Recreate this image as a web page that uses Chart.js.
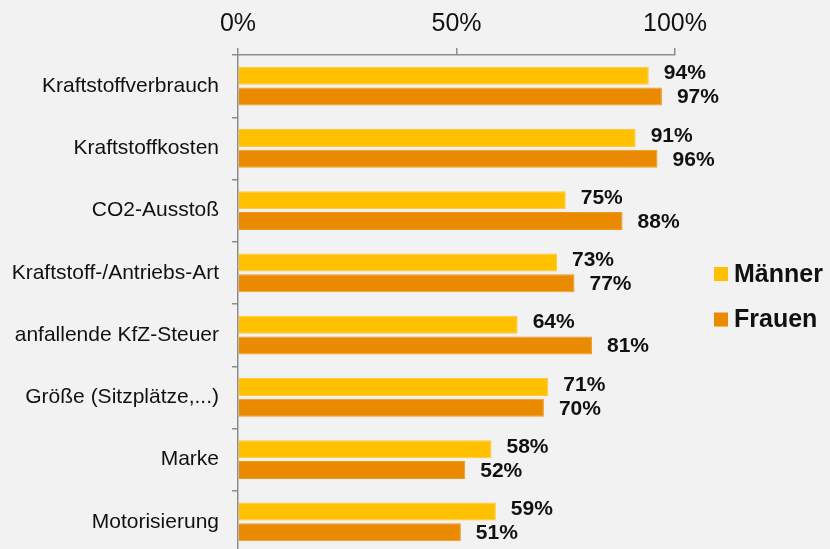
<!DOCTYPE html>
<html><head><meta charset="utf-8">
<script src="https://cdn.jsdelivr.net/npm/chart.js@4/dist/chart.umd.min.js"></script>
<style>
html,body{margin:0;padding:0;background:#f2f2f2;overflow:hidden}
canvas{display:block}
</style></head>
<body><canvas id="c" width="830" height="556" style="width:830px;height:556px"></canvas>
<script>
const categories = ['Kraftstoffverbrauch','Kraftstoffkosten','CO2-Ausstoß','Kraftstoff-/Antriebs-Art','anfallende KfZ-Steuer','Größe (Sitzplätze,...)','Marke','Motorisierung'];
const seriesNames = ['Männer','Frauen'];
const maenner = [94,91,75,73,64,71,58,59];
const frauen = [97,96,88,77,81,70,52,51];
const xTicks = [0,50,100];

const FONT = "'Liberation Sans', Arial, sans-serif";
const colors = ['#FFC000','#E98A00'];
const borders = ['#FFC83A','#EE9A20'];

const bgPlugin = {
  id:'bg',
  beforeDraw(chart){
    const c = chart.ctx;
    c.save(); c.fillStyle='#f2f2f2'; c.fillRect(0,0,chart.width,chart.height); c.restore();
  }
};
const labelPlugin = {
  id:'vals',
  afterDatasetsDraw(chart){
    const c = chart.ctx;
    c.save();
    c.font = "bold 21px " + FONT;
    c.fillStyle = '#111';
    c.textAlign = 'left';
    c.textBaseline = 'middle';
    chart.data.datasets.forEach((ds,i)=>{
      const meta = chart.getDatasetMeta(i);
      meta.data.forEach((el,j)=>{
        const dy = i===0 ? -2 : 1;
        c.fillText(ds.data[j] + '%', el.x + 15, el.y + dy);
      });
    });
    c.restore();
  }
};
const legendPlugin = {
  id:'customLegend',
  afterDraw(chart){
    const c = chart.ctx;
    c.save();
    const ys = [274, 319.5];
    chart.data.datasets.forEach((ds,i)=>{
      c.fillStyle = ds.backgroundColor;
      c.fillRect(714, ys[i]-7, 14, 14);
      c.fillStyle = '#111';
      c.font = "bold 25px " + FONT;
      c.textAlign = 'left';
      c.textBaseline = 'middle';
      c.fillText(ds.label, 734, ys[i]+1);
    });
    c.restore();
  }
};

new Chart(document.getElementById('c'), {
  type:'bar',
  data:{
    labels:categories,
    datasets:[
      {label:seriesNames[0], data:maenner, backgroundColor:colors[0], borderColor:borders[0], borderWidth:1, categoryPercentage:0.67, barPercentage:0.87},
      {label:seriesNames[1], data:frauen, backgroundColor:colors[1], borderColor:borders[1], borderWidth:1, categoryPercentage:0.67, barPercentage:0.87}
    ]
  },
  options:{
    indexAxis:'y',
    responsive:false,
    maintainAspectRatio:false,
    animation:false,
    devicePixelRatio:1,
    layout:{padding:{left:0,right:155,top:0,bottom:3}},
    plugins:{legend:{display:false}, tooltip:{enabled:false}},
    scales:{
      x:{
        position:'top', min:0, max:100,
        afterBuildTicks(s){ s.ticks = xTicks.map(v=>({value:v})); },
        ticks:{callback:v=>v+'%', font:{family:FONT,size:25}, color:'#111', padding:9, maxRotation:0, autoSkip:false},
        grid:{drawOnChartArea:false, drawTicks:true, tickLength:7, color:'#8c8c8c', lineWidth:1.5},
        border:{display:true, color:'#8c8c8c', width:1.5},
        afterFit(s){ s.height = 55; s.paddingLeft = 0; s.paddingRight = 0; }
      },
      y:{
        ticks:{font:{family:FONT,size:21}, color:'#111', padding:13, autoSkip:false},
        grid:{drawOnChartArea:false, drawTicks:true, tickLength:6, color:'#8c8c8c', lineWidth:1.5, offset:true},
        border:{display:true, color:'#8c8c8c', width:1.5},
        afterFit(s){ s.width = 238; s.paddingTop = 0; s.paddingBottom = 0; }
      }
    }
  },
  plugins:[bgPlugin,labelPlugin,legendPlugin]
});
</script>
</body></html>
